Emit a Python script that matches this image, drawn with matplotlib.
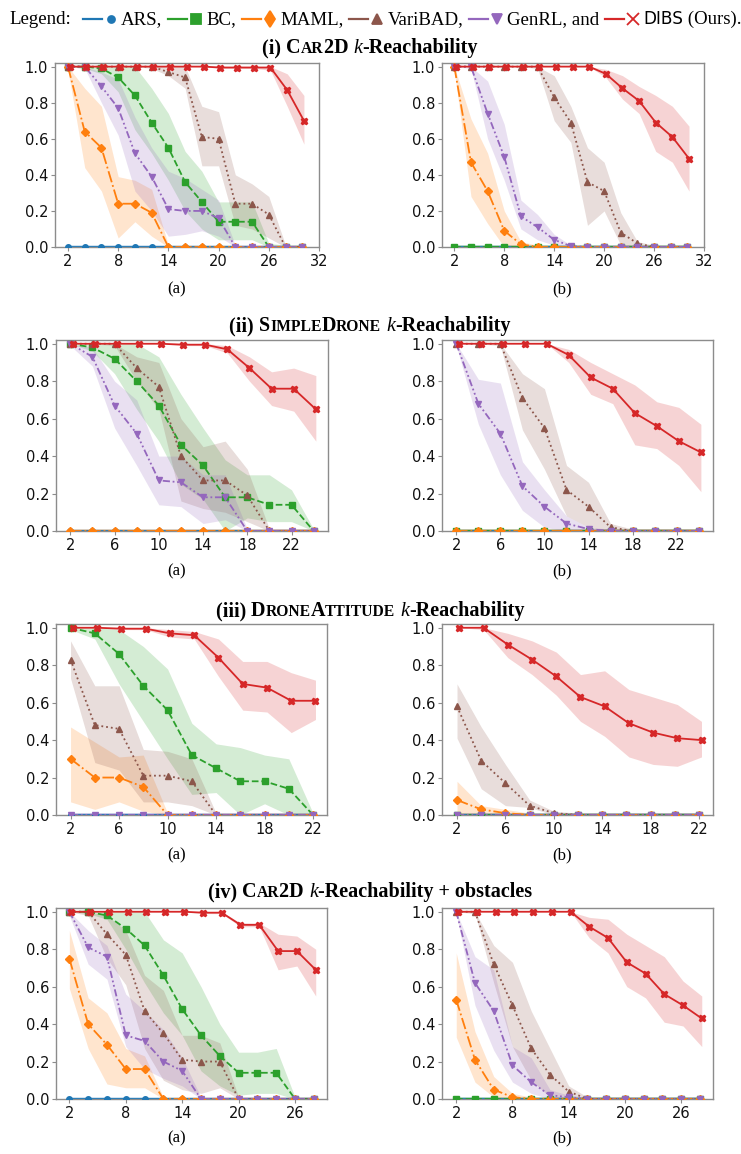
import matplotlib
matplotlib.use("Agg")
import matplotlib.pyplot as plt
from matplotlib.lines import Line2D
from matplotlib.ticker import FormatStrFormatter

# ---------------- data ----------------
METHODS = ["ARS", "BC", "MAML", "VariBAD", "GenRL", "DIBS"]

Z11 = [0.0, 0.0, 0.0, 0.0, 0.0, 0.0, 0.0, 0.0, 0.0, 0.0, 0.0]
Z12 = [0.0, 0.0, 0.0, 0.0, 0.0, 0.0, 0.0, 0.0, 0.0, 0.0, 0.0, 0.0]
Z14 = [0.0, 0.0, 0.0, 0.0, 0.0, 0.0, 0.0, 0.0, 0.0, 0.0, 0.0, 0.0, 0.0, 0.0]
Z15 = [0.0, 0.0, 0.0, 0.0, 0.0, 0.0, 0.0, 0.0, 0.0, 0.0, 0.0, 0.0, 0.0, 0.0, 0.0]
ZH11 = [0.012, 0.012, 0.012, 0.012, 0.012, 0.012, 0.012, 0.012, 0.012, 0.012, 0.012]
ZH12 = [0.012, 0.012, 0.012, 0.012, 0.012, 0.012, 0.012, 0.012, 0.012, 0.012, 0.012, 0.012]
ZH14 = [0.012, 0.012, 0.012, 0.012, 0.012, 0.012, 0.012, 0.012, 0.012, 0.012, 0.012, 0.012, 0.012, 0.012]
ZH15 = [0.012, 0.012, 0.012, 0.012, 0.012, 0.012, 0.012, 0.012, 0.012, 0.012, 0.012, 0.012, 0.012, 0.012, 0.012]

# (i) Car2D  (a)
K1A_X = [2, 4, 6, 8, 10, 12, 14, 16, 18, 20, 22, 24, 26, 28, 30]
K1A_BC = [1.0, 1.0, 0.99, 0.94, 0.84, 0.69, 0.55, 0.36, 0.25, 0.14, 0.14, 0.14, 0.0, 0.0, 0.0]
K1A_BC_LO = [1.0, 0.99, 0.96, 0.86, 0.65, 0.52, 0.37, 0.20, 0.10, 0.04, 0.04, 0.04, 0.0, 0.0, 0.0]
K1A_BC_HI = [1.0, 1.0, 1.0, 1.0, 1.0, 0.88, 0.74, 0.53, 0.42, 0.25, 0.25, 0.25, 0.02, 0.01, 0.01]
K1A_MAML = [1.0, 0.64, 0.55, 0.24, 0.24, 0.19, 0.0, 0.0, 0.0, 0.0, 0.0, 0.0, 0.0, 0.0, 0.0]
K1A_MAML_LO = [0.98, 0.44, 0.31, 0.05, 0.14, 0.06, 0.0, 0.0, 0.0, 0.0, 0.0, 0.0, 0.0, 0.0, 0.0]
K1A_MAML_HI = [1.0, 0.88, 0.78, 0.39, 0.37, 0.32, 0.01, 0.01, 0.01, 0.01, 0.01, 0.01, 0.01, 0.01, 0.01]
K1A_VB = [1.0, 1.0, 1.0, 1.0, 1.0, 1.0, 0.97, 0.94, 0.61, 0.60, 0.24, 0.24, 0.18, 0.0, 0.0]
K1A_VB_LO = [1.0, 1.0, 1.0, 1.0, 1.0, 0.99, 0.95, 0.88, 0.45, 0.45, 0.12, 0.10, 0.05, 0.0, 0.0]
K1A_VB_HI = [1.0, 1.0, 1.0, 1.0, 1.0, 1.0, 1.0, 1.0, 0.78, 0.75, 0.40, 0.35, 0.28, 0.01, 0.01]
K1A_GEN = [1.0, 1.0, 0.89, 0.77, 0.52, 0.39, 0.21, 0.20, 0.20, 0.16, 0.0, 0.0, 0.0, 0.0, 0.0]
K1A_GEN_LO = [1.0, 0.99, 0.80, 0.62, 0.31, 0.20, 0.06, 0.07, 0.09, 0.06, 0.0, 0.0, 0.0, 0.0, 0.0]
K1A_GEN_HI = [1.0, 1.0, 0.97, 0.93, 0.72, 0.55, 0.42, 0.38, 0.32, 0.26, 0.01, 0.01, 0.01, 0.01, 0.01]
K1A_DIBS = [1.0, 1.0, 1.0, 1.0, 1.0, 1.0, 1.0, 1.0, 1.0, 0.995, 0.995, 0.995, 0.995, 0.87, 0.70]
K1A_DIBS_LO = [1.0, 1.0, 1.0, 1.0, 1.0, 1.0, 1.0, 1.0, 1.0, 0.99, 0.99, 0.99, 0.98, 0.78, 0.57]
K1A_DIBS_HI = [1.0, 1.0, 1.0, 1.0, 1.0, 1.0, 1.0, 1.0, 1.0, 1.0, 1.0, 1.0, 1.0, 0.96, 0.84]

# (i) Car2D  (b)
K1B_X = [2, 4, 6, 8, 10, 12, 14, 16, 18, 20, 22, 24, 26, 28, 30]
K1B_MAML = [1.0, 0.47, 0.31, 0.09, 0.015, 0.0, 0.0, 0.0, 0.0, 0.0, 0.0, 0.0, 0.0, 0.0, 0.0]
K1B_MAML_LO = [0.98, 0.28, 0.13, 0.0, 0.0, 0.0, 0.0, 0.0, 0.0, 0.0, 0.0, 0.0, 0.0, 0.0, 0.0]
K1B_MAML_HI = [1.0, 0.71, 0.52, 0.20, 0.03, 0.01, 0.01, 0.01, 0.01, 0.01, 0.01, 0.01, 0.01, 0.01, 0.01]
K1B_VB = [1.0, 1.0, 1.0, 1.0, 1.0, 1.0, 0.83, 0.69, 0.36, 0.31, 0.08, 0.02, 0.0, 0.0, 0.0]
K1B_VB_LO = [1.0, 1.0, 1.0, 1.0, 1.0, 0.99, 0.70, 0.58, 0.12, 0.20, 0.01, 0.0, 0.0, 0.0, 0.0]
K1B_VB_HI = [1.0, 1.0, 1.0, 1.0, 1.0, 1.0, 0.95, 0.78, 0.55, 0.47, 0.19, 0.03, 0.01, 0.01, 0.01]
K1B_GEN = [1.0, 1.0, 0.74, 0.50, 0.17, 0.11, 0.04, 0.005, 0.0, 0.0, 0.0, 0.0, 0.0, 0.0, 0.0]
K1B_GEN_LO = [1.0, 0.99, 0.60, 0.37, 0.10, 0.04, 0.01, 0.0, 0.0, 0.0, 0.0, 0.0, 0.0, 0.0, 0.0]
K1B_GEN_HI = [1.0, 1.0, 0.92, 0.68, 0.26, 0.18, 0.07, 0.01, 0.01, 0.01, 0.01, 0.01, 0.01, 0.01, 0.01]
K1B_DIBS = [1.0, 1.0, 1.0, 1.0, 1.0, 1.0, 1.0, 1.0, 1.0, 0.96, 0.88, 0.81, 0.69, 0.61, 0.49]
K1B_DIBS_LO = [1.0, 1.0, 1.0, 1.0, 1.0, 1.0, 1.0, 1.0, 1.0, 0.94, 0.82, 0.74, 0.53, 0.47, 0.31]
K1B_DIBS_HI = [1.0, 1.0, 1.0, 1.0, 1.0, 1.0, 1.0, 1.0, 1.0, 0.985, 0.95, 0.89, 0.84, 0.78, 0.67]

# (ii) SimpleDrone (a)
K2A_X = [2, 4, 6, 8, 10, 12, 14, 16, 18, 20, 22, 24]
K2A_BC = [1.0, 0.98, 0.92, 0.80, 0.67, 0.46, 0.35, 0.18, 0.18, 0.14, 0.14, 0.0]
K2A_BC_LO = [1.0, 0.96, 0.84, 0.65, 0.48, 0.25, 0.17, 0.0, 0.07, 0.05, 0.05, 0.0]
K2A_BC_HI = [1.0, 1.0, 1.0, 1.0, 0.93, 0.73, 0.55, 0.38, 0.30, 0.30, 0.22, 0.01]
K2A_VB = [1.0, 1.0, 1.0, 0.87, 0.77, 0.40, 0.27, 0.27, 0.19, 0.0, 0.0, 0.0]
K2A_VB_LO = [1.0, 1.0, 0.99, 0.80, 0.65, 0.16, 0.12, 0.10, 0.05, 0.0, 0.0, 0.0]
K2A_VB_HI = [1.0, 1.0, 1.0, 0.93, 0.90, 0.60, 0.45, 0.48, 0.33, 0.01, 0.01, 0.01]
K2A_GEN = [1.0, 0.93, 0.67, 0.52, 0.27, 0.26, 0.18, 0.18, 0.0, 0.0, 0.0, 0.0]
K2A_GEN_LO = [0.99, 0.88, 0.55, 0.35, 0.14, 0.13, 0.04, 0.06, 0.0, 0.0, 0.0, 0.0]
K2A_GEN_HI = [1.0, 0.98, 0.80, 0.70, 0.40, 0.40, 0.30, 0.30, 0.01, 0.01, 0.01, 0.01]
K2A_DIBS = [1.0, 1.0, 1.0, 1.0, 1.0, 0.995, 0.995, 0.97, 0.87, 0.76, 0.76, 0.65]
K2A_DIBS_LO = [1.0, 1.0, 1.0, 1.0, 1.0, 0.99, 0.99, 0.95, 0.80, 0.67, 0.64, 0.48]
K2A_DIBS_HI = [1.0, 1.0, 1.0, 1.0, 1.0, 1.0, 1.0, 0.99, 0.93, 0.85, 0.87, 0.83]

# (ii) SimpleDrone (b)
K2B_X = [2, 4, 6, 8, 10, 12, 14, 16, 18, 20, 22, 24]
K2B_VB = [1.0, 1.0, 1.0, 0.71, 0.55, 0.22, 0.13, 0.02, 0.0, 0.0, 0.0, 0.0]
K2B_VB_LO = [1.0, 1.0, 0.99, 0.54, 0.33, 0.08, 0.02, 0.0, 0.0, 0.0, 0.0, 0.0]
K2B_VB_HI = [1.0, 1.0, 1.0, 0.84, 0.76, 0.35, 0.26, 0.04, 0.01, 0.01, 0.01, 0.01]
K2B_GEN = [1.0, 0.68, 0.52, 0.24, 0.13, 0.04, 0.01, 0.0, 0.0, 0.0, 0.0, 0.0]
K2B_GEN_LO = [0.99, 0.57, 0.30, 0.11, 0.02, 0.0, 0.0, 0.0, 0.0, 0.0, 0.0, 0.0]
K2B_GEN_HI = [1.0, 0.81, 0.79, 0.37, 0.22, 0.08, 0.02, 0.01, 0.01, 0.01, 0.01, 0.01]
K2B_DIBS = [1.0, 1.0, 1.0, 1.0, 1.0, 0.94, 0.82, 0.76, 0.63, 0.56, 0.48, 0.42]
K2B_DIBS_LO = [1.0, 1.0, 1.0, 1.0, 1.0, 0.90, 0.73, 0.68, 0.46, 0.44, 0.35, 0.21]
K2B_DIBS_HI = [1.0, 1.0, 1.0, 1.0, 1.0, 0.97, 0.90, 0.84, 0.78, 0.69, 0.66, 0.57]

# (iii) DroneAttitude (a)
K3A_X = [2, 4, 6, 8, 10, 12, 14, 16, 18, 20, 22]
K3A_BC = [1.0, 0.97, 0.86, 0.69, 0.56, 0.32, 0.25, 0.18, 0.18, 0.14, 0.0]
K3A_BC_LO = [0.99, 0.94, 0.70, 0.50, 0.30, 0.11, 0.12, 0.0, 0.06, 0.0, 0.0]
K3A_BC_HI = [1.0, 1.0, 0.99, 0.90, 0.78, 0.49, 0.38, 0.36, 0.32, 0.30, 0.01]
K3A_MAML = [0.30, 0.20, 0.20, 0.15, 0.0, 0.0, 0.0, 0.0, 0.0, 0.0, 0.0]
K3A_MAML_LO = [0.07, 0.03, 0.07, 0.02, 0.0, 0.0, 0.0, 0.0, 0.0, 0.0, 0.0]
K3A_MAML_HI = [0.47, 0.39, 0.31, 0.32, 0.01, 0.01, 0.01, 0.01, 0.01, 0.01, 0.01]
K3A_VB = [0.83, 0.48, 0.46, 0.21, 0.21, 0.18, 0.0, 0.0, 0.0, 0.0, 0.0]
K3A_VB_LO = [0.73, 0.28, 0.24, 0.07, 0.07, 0.05, 0.0, 0.0, 0.0, 0.0, 0.0]
K3A_VB_HI = [0.93, 0.69, 0.69, 0.35, 0.34, 0.30, 0.01, 0.01, 0.01, 0.01, 0.01]
K3A_DIBS = [1.0, 1.0, 0.995, 0.995, 0.97, 0.96, 0.84, 0.70, 0.68, 0.61, 0.61]
K3A_DIBS_LO = [1.0, 1.0, 0.99, 0.99, 0.95, 0.94, 0.74, 0.56, 0.55, 0.44, 0.51]
K3A_DIBS_HI = [1.0, 1.0, 1.0, 1.0, 0.99, 0.98, 0.94, 0.82, 0.82, 0.76, 0.72]

# (iii) DroneAttitude (b)
K3B_X = [2, 4, 6, 8, 10, 12, 14, 16, 18, 20, 22]
K3B_MAML = [0.08, 0.03, 0.01, 0.0, 0.0, 0.0, 0.0, 0.0, 0.0, 0.0, 0.0]
K3B_MAML_LO = [0.0, 0.0, 0.0, 0.0, 0.0, 0.0, 0.0, 0.0, 0.0, 0.0, 0.0]
K3B_MAML_HI = [0.18, 0.05, 0.03, 0.01, 0.01, 0.01, 0.01, 0.01, 0.01, 0.01, 0.01]
K3B_VB = [0.58, 0.29, 0.17, 0.05, 0.01, 0.0, 0.0, 0.0, 0.0, 0.0, 0.0]
K3B_VB_LO = [0.41, 0.14, 0.05, 0.04, 0.0, 0.0, 0.0, 0.0, 0.0, 0.0, 0.0]
K3B_VB_HI = [0.70, 0.47, 0.27, 0.08, 0.02, 0.01, 0.01, 0.01, 0.01, 0.01, 0.01]
K3B_DIBS = [1.0, 1.0, 0.91, 0.83, 0.74, 0.63, 0.58, 0.49, 0.44, 0.41, 0.40]
K3B_DIBS_LO = [1.0, 0.99, 0.84, 0.75, 0.64, 0.50, 0.42, 0.31, 0.27, 0.26, 0.31]
K3B_DIBS_HI = [1.0, 1.0, 0.97, 0.93, 0.87, 0.75, 0.77, 0.67, 0.63, 0.59, 0.50]

# (iv) Car2D + obstacles (a)
K4A_X = [2, 4, 6, 8, 10, 12, 14, 16, 18, 20, 22, 24, 26, 28]
K4A_BC = [1.0, 1.0, 0.98, 0.91, 0.82, 0.66, 0.48, 0.34, 0.23, 0.14, 0.14, 0.14, 0.0, 0.0]
K4A_BC_LO = [1.0, 0.99, 0.96, 0.80, 0.62, 0.46, 0.34, 0.15, 0.07, 0.02, 0.03, 0.03, 0.0, 0.0]
K4A_BC_HI = [1.0, 1.0, 1.0, 1.0, 1.0, 0.85, 0.78, 0.60, 0.40, 0.25, 0.25, 0.27, 0.01, 0.01]
K4A_MAML = [0.75, 0.40, 0.29, 0.16, 0.16, 0.0, 0.0, 0.0, 0.0, 0.0, 0.0, 0.0, 0.0, 0.0]
K4A_MAML_LO = [0.59, 0.27, 0.08, 0.06, 0.06, 0.0, 0.0, 0.0, 0.0, 0.0, 0.0, 0.0, 0.0, 0.0]
K4A_MAML_HI = [0.90, 0.54, 0.46, 0.27, 0.23, 0.01, 0.01, 0.01, 0.01, 0.01, 0.01, 0.01, 0.01, 0.01]
K4A_VB = [1.0, 1.0, 0.88, 0.77, 0.47, 0.35, 0.21, 0.20, 0.20, 0.0, 0.0, 0.0, 0.0, 0.0]
K4A_VB_LO = [1.0, 0.98, 0.75, 0.61, 0.27, 0.10, 0.05, 0.03, 0.06, 0.0, 0.0, 0.0, 0.0, 0.0]
K4A_VB_HI = [1.0, 1.0, 0.98, 0.90, 0.66, 0.58, 0.34, 0.34, 0.30, 0.01, 0.01, 0.01, 0.01, 0.01]
K4A_GEN = [1.0, 0.81, 0.76, 0.34, 0.31, 0.20, 0.15, 0.0, 0.0, 0.0, 0.0, 0.0, 0.0, 0.0]
K4A_GEN_LO = [0.98, 0.72, 0.64, 0.28, 0.16, 0.11, 0.07, 0.0, 0.0, 0.0, 0.0, 0.0, 0.0, 0.0]
K4A_GEN_HI = [1.0, 0.90, 0.82, 0.56, 0.47, 0.37, 0.22, 0.01, 0.01, 0.01, 0.01, 0.01, 0.01, 0.01]
K4A_DIBS = [1.0, 1.0, 1.0, 1.0, 1.0, 1.0, 1.0, 0.995, 0.995, 0.93, 0.93, 0.79, 0.79, 0.69]
K4A_DIBS_LO = [1.0, 1.0, 1.0, 1.0, 1.0, 1.0, 1.0, 0.99, 0.99, 0.92, 0.92, 0.69, 0.71, 0.55]
K4A_DIBS_HI = [1.0, 1.0, 1.0, 1.0, 1.0, 1.0, 1.0, 1.0, 1.0, 0.94, 0.94, 0.88, 0.87, 0.80]

# (iv) Car2D + obstacles (b)
K4B_X = [2, 4, 6, 8, 10, 12, 14, 16, 18, 20, 22, 24, 26, 28]
K4B_MAML = [0.53, 0.21, 0.05, 0.01, 0.0, 0.0, 0.0, 0.0, 0.0, 0.0, 0.0, 0.0, 0.0, 0.0]
K4B_MAML_LO = [0.33, 0.09, 0.01, 0.0, 0.0, 0.0, 0.0, 0.0, 0.0, 0.0, 0.0, 0.0, 0.0, 0.0]
K4B_MAML_HI = [0.78, 0.36, 0.12, 0.03, 0.01, 0.01, 0.01, 0.01, 0.01, 0.01, 0.01, 0.01, 0.01, 0.01]
K4B_VB = [1.0, 1.0, 0.72, 0.50, 0.27, 0.13, 0.04, 0.0, 0.0, 0.0, 0.0, 0.0, 0.0, 0.0]
K4B_VB_LO = [1.0, 0.99, 0.62, 0.28, 0.10, 0.01, 0.0, 0.0, 0.0, 0.0, 0.0, 0.0, 0.0, 0.0]
K4B_VB_HI = [1.0, 1.0, 0.82, 0.73, 0.47, 0.27, 0.07, 0.01, 0.01, 0.01, 0.01, 0.01, 0.01, 0.01]
K4B_GEN = [1.0, 0.62, 0.47, 0.18, 0.09, 0.02, 0.01, 0.0, 0.0, 0.0, 0.0, 0.0, 0.0, 0.0]
K4B_GEN_LO = [0.99, 0.50, 0.26, 0.09, 0.03, 0.0, 0.0, 0.0, 0.0, 0.0, 0.0, 0.0, 0.0, 0.0]
K4B_GEN_HI = [1.0, 0.76, 0.69, 0.28, 0.22, 0.05, 0.02, 0.01, 0.01, 0.01, 0.01, 0.01, 0.01, 0.01]
K4B_DIBS = [1.0, 1.0, 1.0, 1.0, 1.0, 1.0, 1.0, 0.92, 0.86, 0.73, 0.67, 0.56, 0.50, 0.43]
K4B_DIBS_LO = [1.0, 1.0, 1.0, 1.0, 1.0, 1.0, 1.0, 0.86, 0.78, 0.60, 0.54, 0.41, 0.39, 0.28]
K4B_DIBS_HI = [1.0, 1.0, 1.0, 1.0, 1.0, 1.0, 1.0, 0.97, 0.96, 0.88, 0.82, 0.76, 0.63, 0.55]

XTICKS_1 = [2, 8, 14, 20, 26, 32]
XTICKS_2 = [2, 6, 10, 14, 18, 22]
XTICKS_3 = [2, 6, 10, 14, 18, 22]
XTICKS_4 = [2, 8, 14, 20, 26]
YTICKS = [0.0, 0.2, 0.4, 0.6, 0.8, 1.0]

# ---------------- styling ----------------
W, H = 741, 1154
SERIF = "Liberation Serif"
SANS = "DejaVu Sans"
COLORS = {"ARS": "#1f77b4", "BC": "#2ca02c", "MAML": "#ff7f0e",
          "VariBAD": "#8c564b", "GenRL": "#9467bd", "DIBS": "#d62728"}
LSTYLE = {"ARS": "-", "BC": "--", "MAML": "-.", "VariBAD": ":",
          "GenRL": (0, (4, 1.5, 1, 1.5, 1, 1.5)), "DIBS": "-"}
MARKER = {"ARS": "o", "BC": "s", "MAML": "D", "VariBAD": "^", "GenRL": "v", "DIBS": "X"}
MSIZE = {"ARS": 4.0, "BC": 5.0, "MAML": 4.5, "VariBAD": 5.0, "GenRL": 5.0, "DIBS": 5.0}
SHIFT = {"ARS": 0.0, "BC": 0.0, "MAML": 0.0, "VariBAD": 0.0, "GenRL": 0.0, "DIBS": 0.2}


def series(prefix, n):
    g = globals()
    zeros = {11: Z11, 12: Z12, 14: Z14, 15: Z15}[n]
    zh = {11: ZH11, 12: ZH12, 14: ZH14, 15: ZH15}[n]
    keys = {"ARS": "ARS", "BC": "BC", "MAML": "MAML", "VariBAD": "VB", "GenRL": "GEN", "DIBS": "DIBS"}
    out = {}
    for m in METHODS:
        k = prefix + "_" + keys[m]
        if k in g:
            out[m] = (g[k], g[k + "_LO"], g[k + "_HI"])
        else:
            out[m] = (zeros, zeros, zh)
    return out


# panel rects in pixels: (left, top, right, bottom)
PANELS = [
    ("K1A", K1A_X, XTICKS_1, (0.45, 32.0), (55, 63, 319, 247), ("(a)", 177, 289)),
    ("K1B", K1B_X, XTICKS_1, (0.52, 32.0), (442, 63, 704, 247), ("(b)", 562, 289)),
    ("K2A", K2A_X, XTICKS_2, (0.7, 25.3), (56, 340, 328, 531), ("(a)", 177, 571)),
    ("K2B", K2B_X, XTICKS_2, (0.7, 25.3), (442, 340, 713, 531), ("(b)", 562, 571)),
    ("K3A", K3A_X, XTICKS_3, (0.8, 23.15), (56, 624, 327, 815), ("(a)", 177, 855)),
    ("K3B", K3B_X, XTICKS_3, (0.76, 23.15), (442, 624, 713, 815), ("(b)", 562, 855)),
    ("K4A", K4A_X, XTICKS_4, (0.58, 29.4), (56, 908, 327, 1099), ("(a)", 177, 1138)),
    ("K4B", K4B_X, XTICKS_4, (0.48, 29.4), (442, 908, 713, 1099), ("(b)", 562, 1138)),
]

fig = plt.figure(figsize=(W / 100, H / 100), dpi=100)
fig.patch.set_facecolor("white")
renderer = fig.canvas.get_renderer()


def fx(x):
    return x / W


def fy(y):
    return 1 - y / H


def tw(s, **kw):
    t1 = fig.text(0, 0, "|" + s + "|", **kw)
    t2 = fig.text(0, 0, "||", **kw)
    w = t1.get_window_extent(renderer).width - t2.get_window_extent(renderer).width
    t1.remove()
    t2.remove()
    return w


# ---------------- axes ----------------
for prefix, X, xt, xl, (l, t, r, b), (lab, lx, ly) in PANELS:
    ax = fig.add_axes([fx(l), fy(b), (r - l) / W, (b - t) / H])
    data = series(prefix, len(X))
    for m in METHODS:
        mean, lo, hi = data[m]
        xs = [x + SHIFT[m] for x in X]
        ax.fill_between(xs, lo, hi, color=COLORS[m], alpha=0.2, lw=0, zorder=1)
    for i, m in enumerate(METHODS):
        mean, lo, hi = data[m]
        xs = [x + SHIFT[m] for x in X]
        ax.plot(xs, mean, color=COLORS[m], ls=LSTYLE[m], marker=MARKER[m],
                ms=MSIZE[m], lw=1.3, zorder=3 + i, clip_on=True)
    ax.set_xlim(*xl)
    ax.set_ylim(0.0, 1.02)
    ax.set_xticks(xt)
    ax.set_yticks(YTICKS)
    ax.yaxis.set_major_formatter(FormatStrFormatter("%.1f"))
    for sp in ax.spines.values():
        sp.set_color("#8c8c8c")
        sp.set_linewidth(1.0)
    ax.tick_params(colors="#8c8c8c", labelcolor="#111111", length=3, width=0.8,
                   labelsize=10.5, pad=2)
    for tl in ax.get_xticklabels() + ax.get_yticklabels():
        tl.set_family(SANS)
    fig.text(fx(lx), fy(ly), lab, ha="center", va="center", family=SERIF, size=12)

# ---------------- titles ----------------
TITLES = [
    ([("(i) ", "B"), ("C", "B"), ("AR", "S"), ("2D ", "B"), ("k", "I"), ("-Reachability", "B")], 53),
    ([("(ii) ", "B"), ("S", "B"), ("IMPLE", "S"), ("D", "B"), ("RONE", "S"), (" ", "B"),
      ("k", "I"), ("-Reachability", "B")], 331),
    ([("(iii) ", "B"), ("D", "B"), ("RONE", "S"), ("A", "B"), ("TTITUDE", "S"), (" ", "B"),
      ("k", "I"), ("-Reachability", "B")], 616),
    ([("(iv) ", "B"), ("C", "B"), ("AR", "S"), ("2D ", "B"), ("k", "I"),
      ("-Reachability + obstacles", "B")], 897),
]


def pkw(kind, base):
    if kind == "B":
        return dict(family=SERIF, weight="bold", size=base)
    if kind == "S":
        return dict(family=SERIF, weight="bold", size=base * 0.78)
    return dict(family=SERIF, style="italic", size=base)


w10 = sum(tw(s, **pkw(k, 10)) for s, k in TITLES[0][0])
TBASE = 10 * 215 / w10
for pieces, yb in TITLES:
    widths = [tw(s, **pkw(k, TBASE)) for s, k in pieces]
    x = 370 - sum(widths) / 2
    for (s, k), w in zip(pieces, widths):
        fig.text(fx(x), fy(yb), s, ha="left", va="baseline", **pkw(k, TBASE))
        x += w

# ---------------- legend row ----------------
LEG_LABELS = ["ARS,", "BC,", "MAML,", "VariBAD,", "GenRL, and"]
LEG_METHODS = ["ARS", "BC", "MAML", "VariBAD", "GenRL", "DIBS"]
LEG_MARK = {"ARS": ("o", 5), "BC": ("s", 7), "MAML": ("d", 8), "VariBAD": ("^", 7),
            "GenRL": ("v", 7), "DIBS": ("x", 8)}
GAP_AFTER_LEGEND, LINE_LEN, LINE_TO_MK, MK_TO_TXT, TXT_GAP = 12, 19, 9, 10, 6


def leg_text_width(fs):
    w = tw("Legend:", family=SERIF, size=fs)
    w += sum(tw(s, family=SERIF, size=fs) for s in LEG_LABELS)
    w += tw("DIBS", family=SANS, size=fs * 0.9) + tw(" (Ours).", family=SERIF, size=fs)
    return w


fixed = GAP_AFTER_LEGEND + 6 * (LINE_LEN + LINE_TO_MK + MK_TO_TXT) + 5 * TXT_GAP
FS = 12 * (731 - fixed) / leg_text_width(12)
YB = 24
YH = 19
x = 9
fig.text(fx(x), fy(YB), "Legend:", family=SERIF, size=FS, va="baseline")
x += tw("Legend:", family=SERIF, size=FS) + GAP_AFTER_LEGEND
for i, m in enumerate(LEG_METHODS):
    c = COLORS[m]
    fig.add_artist(Line2D([fx(x), fx(x + LINE_LEN)], [fy(YH), fy(YH)], color=c, lw=1.6,
                          transform=fig.transFigure))
    x += LINE_LEN + LINE_TO_MK
    mk, ms = LEG_MARK[m]
    fig.add_artist(Line2D([fx(x)], [fy(YH)], color=c, marker=mk, ms=ms, mew=1.3,
                          ls="none", transform=fig.transFigure))
    x += MK_TO_TXT
    if m != "DIBS":
        s = LEG_LABELS[i]
        fig.text(fx(x), fy(YB), s, family=SERIF, size=FS, va="baseline")
        x += tw(s, family=SERIF, size=FS) + TXT_GAP
    else:
        fig.text(fx(x), fy(YB), "DIBS", family=SANS, size=FS * 0.9, va="baseline")
        x += tw("DIBS", family=SANS, size=FS * 0.9)
        fig.text(fx(x), fy(YB), " (Ours).", family=SERIF, size=FS, va="baseline")

fig.savefig("out.png", dpi=100, facecolor="white")
